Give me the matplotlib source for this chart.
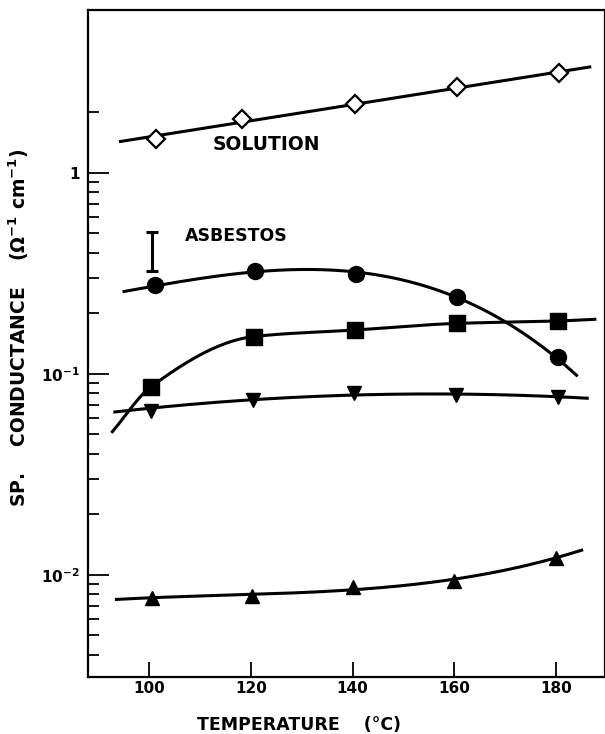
import matplotlib
matplotlib.use("Agg")
import matplotlib.pyplot as plt
from matplotlib.ticker import NullFormatter
import numpy as np

plt.rcParams['font.family'] = ['DejaVu Sans']
plt.rcParams['font.weight'] = 'bold'
plt.rcParams['mathtext.default'] = 'bf'

# --- values (temperature in degC, sp. conductance) ---
# solution, open diamonds
sol_t = [101.3, 118.2, 140.5, 160.5, 180.6]
sol_k = [1.48, 1.84, 2.21, 2.66, 3.12]
sol_line_t = [94.3, 186.7]

# asbestos, filled circles (curve ends read separately)
circ_t = [101.0, 120.7, 140.7, 160.5, 180.4]
circ_k = [0.276, 0.325, 0.313, 0.242, 0.1215]
circ_end_t = [95.0, 184.1]
circ_end_k = [0.254, 0.096]

# filled squares
sq_t = [100.3, 120.5, 140.5, 160.5, 180.4]
sq_k = [0.0861, 0.153, 0.165, 0.178, 0.183]
sq_end_t = [92.7, 187.7]
sq_end_k = [0.0515, 0.1865]

# inverted triangles
dn_t = [100.3, 120.3, 140.2, 160.3, 180.4]
dn_k = [0.0655, 0.0740, 0.0799, 0.0783, 0.0770]
dn_end_t = [93.2, 186.2]
dn_end_k = [0.066, 0.0755]

# triangles
up_t = [100.6, 120.2, 140.1, 159.9, 180.1]
up_k = [0.00770, 0.00785, 0.00865, 0.00933, 0.01218]
up_end_t = [93.5, 185.1]
up_end_k = [0.00755, 0.01327]

# error bar drawn above the asbestos point at 100 degC
err_t = 100.6
err_lo, err_hi = 0.324, 0.508

x_ticks = [100, 120, 140, 160, 180]
y_major = [0.01, 0.1, 1]
y_major_labels = ['10$^{-2}$', '10$^{-1}$', '1']
y_minor = [0.004, 0.005, 0.006, 0.007, 0.008, 0.009,
           0.02, 0.03, 0.04, 0.05, 0.06, 0.07, 0.08, 0.09,
           0.2, 0.3, 0.4, 0.5, 0.6, 0.7, 0.8, 0.9, 2]


def knots(t, k, end_t, end_k):
    return [end_t[0]] + t + [end_t[1]], [end_k[0]] + k + [end_k[1]]


def fit_curve(xs, ys, deg, n=300):
    """Least-squares polynomial through the points, in log10 space."""
    coef = np.polyfit(xs, np.log10(ys), deg)
    xx = np.linspace(min(xs), max(xs), n)
    return xx, 10**np.polyval(coef, xx)


def pchip_curve(xs, ys, n=300):
    """Shape preserving cubic through the points, in log10 space."""
    xs = np.asarray(xs, float)
    ly = np.log10(np.asarray(ys, float))
    h = np.diff(xs)
    d = np.diff(ly) / h
    m = np.zeros_like(ly)
    m[0], m[-1] = d[0], d[-1]
    for k in range(1, len(xs) - 1):
        if d[k - 1] * d[k] > 0:
            w1 = 2 * h[k] + h[k - 1]
            w2 = h[k] + 2 * h[k - 1]
            m[k] = (w1 + w2) / (w1 / d[k - 1] + w2 / d[k])
    xx = np.linspace(xs[0], xs[-1], n)
    i = np.clip(np.searchsorted(xs, xx) - 1, 0, len(xs) - 2)
    hh = h[i]
    t = (xx - xs[i]) / hh
    yy = ((2 * t**3 - 3 * t**2 + 1) * ly[i] + (t**3 - 2 * t**2 + t) * hh * m[i]
          + (-2 * t**3 + 3 * t**2) * ly[i + 1] + (t**3 - t**2) * hh * m[i + 1])
    return xx, 10**yy


fig = plt.figure(figsize=(6.05, 7.34), dpi=100)
ax = fig.add_axes([88 / 605, 57.3 / 734, 517 / 605, 666.7 / 734])
ax.set_yscale('log')

lw = 2.2
# solution: straight line in log space
coef = np.polyfit(sol_t, np.log10(sol_k), 1)
xl = np.array(sol_line_t)
ax.plot(xl, 10**np.polyval(coef, xl), color='k', lw=lw)
ax.plot(sol_t, sol_k, 'D', ms=9.5, mfc='white', mec='k', mew=1.6)

ax.plot(*fit_curve(*knots(circ_t, circ_k, circ_end_t, circ_end_k), 3), color='k', lw=lw)
ax.plot(*pchip_curve(*knots(sq_t, sq_k, sq_end_t, sq_end_k)), color='k', lw=lw)
ax.plot(*fit_curve(*knots(dn_t, dn_k, dn_end_t, dn_end_k), 2), color='k', lw=lw)
ax.plot(*fit_curve(*knots(up_t, up_k, up_end_t, up_end_k), 3), color='k', lw=lw)

ax.plot(circ_t, circ_k, 'o', ms=11.5, color='k')
ax.plot(sq_t, sq_k, 's', ms=11, color='k')
ax.plot(dn_t, dn_k, 'v', ms=9.5, color='k')
ax.plot(up_t, up_k, '^', ms=10, color='k')

mid = np.sqrt(err_lo * err_hi)
ax.errorbar([err_t], [mid], yerr=[[mid - err_lo], [err_hi - mid]], fmt='none',
            ecolor='k', elinewidth=2.2, capsize=4.3, capthick=2.2)

ax.text(112.5, 1.374, 'SOLUTION', fontsize=13.5, fontweight='bold',
        ha='left', va='center')
ax.text(107.0, 0.486, 'ASBESTOS', fontsize=12.5, fontweight='bold',
        ha='left', va='center')

ax.set_xlim(87.9, 189.7)
ax.set_ylim(0.00311, 6.45)
ax.set_xticks(x_ticks)
ax.set_yticks(y_major, labels=y_major_labels)
ax.set_yticks(y_minor, minor=True)
ax.yaxis.set_minor_formatter(NullFormatter())
ax.tick_params(axis='x', which='major', direction='in', length=11, width=1.3,
               pad=3, labelsize=11)
ax.tick_params(axis='x', which='minor', bottom=False, top=False)
ax.tick_params(axis='y', which='major', direction='in', length=15, width=1.3,
               pad=6, labelsize=11)
ax.tick_params(axis='y', which='minor', direction='in', length=8, width=1.3)

for s in ax.spines.values():
    s.set_linewidth(1.6)

ax.set_xlabel('TEMPERATURE    (°C)', fontsize=12.5, fontweight='bold', va='center')
ax.xaxis.set_label_coords(0.409, -0.072)
ax.set_ylabel('SP.    CONDUCTANCE    (Ω$^{-1}$ cm$^{-1}$)', fontsize=13.5,
              fontweight='bold', va='center')
ax.yaxis.set_label_coords(-0.134, 0.524)

fig.savefig('out.png', dpi=100)
